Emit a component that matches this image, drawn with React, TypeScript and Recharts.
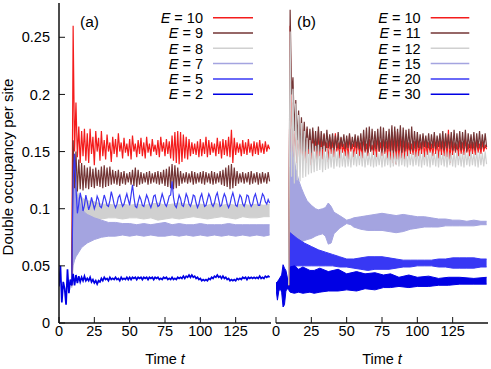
import React from 'react';
import { ComposedChart, Line, Area, XAxis, YAxis } from 'recharts';

const FONT = '"Liberation Sans", Arial, Helvetica, sans-serif';

// axes
const X_TICKS = [0, 25, 50, 75, 100, 125];
const Y_TICKS = [0, 0.05, 0.1, 0.15, 0.2, 0.25];
const X_DOMAIN = [0, 150];
const Y_DOMAIN = [0, 0.28];
const Y_LABEL = 'Double occupancy per site';
const X_LABEL = 'Time ';
const PANEL_LABELS = ['(a)', '(b)'];
const LEGEND_A = ['10', '9', '8', '7', '5', '2'];
const LEGEND_B = ['10', '11', '12', '15', '20', '30'];

// values: double occupancy x 1000, one per unit of time
// E = 10 (both panels), from t = 9
const E10 = [
  33,
  260, 150, 193, 145, 172, 140, 168, 146, 170, 142,
  166, 140, 170, 148, 163, 138, 168, 150, 162, 142,
  168, 146, 160, 143, 165, 150, 158, 141, 163, 148,
  161, 145, 166, 150, 158, 144, 162, 149, 157, 146,
  161, 143, 164, 150, 157, 145, 160, 148, 162, 146,
  158, 144, 163, 149, 157, 146, 161, 150, 156, 147,
  160, 145, 163, 150, 158, 146, 161, 148, 159, 144,
  164, 142, 167, 140, 168, 139, 167, 141, 165, 144,
  163, 143, 161, 146, 158, 148, 157, 147, 159, 145,
  161, 146, 158, 148, 163, 145, 160, 147, 158, 149,
  157, 146, 162, 148, 159, 144, 161, 147, 160, 146,
  163, 145, 169, 140, 162, 147, 158, 149, 157, 146,
  160, 148, 158, 147, 161, 149, 157, 146, 159, 148,
  158, 147, 160, 149, 157, 148, 159, 150, 156, 152,
];
// E = 9 (a), from t = 9
const E9A = [
  33,
  160, 118, 150, 115, 143, 117, 140, 116, 138, 118,
  136, 117, 137, 119, 135, 118, 136, 120, 134, 119,
  137, 118, 138, 119, 136, 120, 137, 121, 134, 122,
  133, 121, 134, 120, 132, 122, 133, 121, 131, 123,
  132, 121, 134, 120, 136, 119, 134, 121, 132, 122,
  131, 123, 132, 121, 133, 122, 131, 123, 132, 122,
  133, 121, 132, 122, 134, 120, 135, 119, 137, 118,
  139, 117, 138, 118, 136, 120, 133, 122, 131, 123,
  132, 122, 131, 123, 133, 121, 132, 122, 131, 123,
  132, 122, 133, 121, 132, 123, 131, 122, 133, 121,
  132, 122, 131, 123, 133, 121, 134, 120, 136, 119,
  138, 117, 139, 118, 136, 120, 133, 122, 131, 123,
  132, 122, 131, 123, 132, 121, 133, 122, 131, 123,
  132, 121, 131, 122, 132, 123, 131, 122, 132, 124,
];
// E = 5 (a), from t = 9
const E5A = [
  33,
  125, 148, 118, 96, 104, 114, 108, 98, 103, 112,
  106, 99, 103, 110, 105, 100, 104, 111, 108, 102,
  101, 106, 112, 108, 103, 102, 107, 115, 110, 104,
  101, 104, 110, 112, 106, 102, 104, 109, 113, 108,
  103, 112, 121, 110, 102, 101, 106, 111, 108, 103,
  102, 107, 112, 109, 104, 101, 105, 111, 112, 106,
  102, 103, 108, 113, 109, 104, 102, 106, 111, 112,
  124, 110, 103, 101, 106, 112, 109, 103, 102, 107,
  113, 110, 104, 102, 106, 112, 111, 105, 101, 104,
  110, 113, 107, 102, 103, 108, 113, 110, 104, 102,
  105, 111, 114, 108, 102, 103, 109, 113, 110, 104,
  101, 104, 110, 114, 109, 103, 102, 107, 112, 110,
  104, 102, 106, 112, 111, 105, 102, 104, 110, 113,
  108, 103, 103, 108, 113, 111, 106, 104, 108, 105,
];
// E = 2 (a), from t = 0
const E2A = [
  32, 50, 18, 36, 30, 16, 47, 26, 38, 33,
  43, 33, 42, 35, 41, 36, 40, 37, 41, 37,
  39, 37, 40, 36, 38, 35, 37, 34, 37, 36,
  39, 37, 40, 38, 39, 37, 40, 38, 39, 38,
  40, 38, 39, 37, 40, 38, 39, 38, 40, 38,
  40, 38, 40, 39, 40, 38, 40, 39, 40, 38,
  40, 39, 40, 38, 40, 39, 40, 38, 40, 39,
  40, 38, 39, 38, 40, 39, 40, 38, 39, 38,
  40, 38, 39, 38, 40, 39, 40, 39, 41, 39,
  41, 40, 42, 40, 42, 40, 41, 39, 40, 38,
  39, 37, 38, 37, 38, 37, 39, 38, 40, 39,
  41, 40, 42, 40, 41, 39, 41, 39, 40, 38,
  39, 37, 38, 37, 38, 37, 39, 38, 39, 38,
  40, 39, 40, 38, 40, 39, 40, 39, 40, 39,
  40, 39, 41, 39, 40, 39, 41, 40, 41, 40,
];
// E = 8 (a) band: times, lower, upper
const E8A_T = [9, 10, 12, 14, 16, 18, 20, 25, 30, 35, 40, 45, 50, 55, 60, 65, 70, 75, 80, 85, 90, 95, 100, 105, 110, 115, 120, 125, 130, 135, 140, 145, 149];
const E8A_LO = [31, 60, 80, 85, 88, 88, 89, 90, 91, 92, 92, 91, 92, 92, 91, 92, 90, 91, 92, 91, 92, 93, 92, 91, 92, 93, 92, 91, 93, 92, 92, 93, 93];
const E8A_HI = [35, 125, 118, 112, 110, 108, 107, 106, 104, 104, 103, 104, 103, 104, 103, 104, 105, 103, 104, 105, 104, 103, 104, 103, 105, 103, 104, 103, 104, 103, 104, 103, 104];
// E = 7 (a) band
const E7A_T = [9, 10, 11, 12, 14, 16, 18, 20, 25, 30, 35, 40, 45, 50, 55, 60, 65, 70, 75, 80, 85, 90, 95, 100, 105, 110, 115, 120, 125, 130, 135, 140, 145, 149];
const E7A_LO = [31, 50, 55, 58, 62, 66, 68, 70, 73, 75, 76, 76, 77, 76, 77, 76, 77, 76, 76, 77, 76, 77, 76, 77, 76, 77, 76, 77, 76, 77, 76, 77, 76, 77];
const E7A_HI = [35, 125, 120, 115, 108, 100, 97, 95, 92, 90, 88, 88, 87, 87, 86, 87, 86, 87, 88, 86, 87, 86, 86, 87, 86, 86, 86, 87, 86, 86, 86, 86, 86, 86];

// E = 11 (b), from t = 9
const E11B = [
  33,
  274, 200, 215, 168, 195, 160, 186, 152, 180, 150,
  176, 150, 172, 152, 170, 149, 171, 151, 168, 150,
  172, 150, 168, 152, 166, 151, 169, 153, 165, 152,
  166, 151, 164, 153, 167, 152, 163, 154, 165, 152,
  164, 153, 166, 152, 163, 154, 165, 153, 164, 152,
  166, 151, 169, 150, 171, 149, 172, 150, 170, 151,
  168, 152, 170, 150, 172, 149, 171, 150, 168, 152,
  170, 150, 173, 149, 172, 150, 170, 151, 173, 149,
  171, 150, 169, 152, 170, 150, 172, 151, 168, 152,
  167, 153, 165, 152, 166, 154, 164, 153, 166, 152,
  165, 153, 167, 152, 164, 154, 166, 152, 168, 151,
  166, 153, 165, 152, 167, 151, 169, 150, 166, 152,
  168, 151, 167, 152, 169, 150, 166, 153, 165, 152,
  167, 151, 166, 153, 168, 152, 165, 153, 166, 154,
];
// E = 12 (b), from t = 9
const E12B = [
  33,
  255, 128, 205, 122, 192, 125, 182, 124, 175, 127,
  168, 128, 162, 130, 160, 131, 157, 132, 155, 133,
  156, 134, 154, 132, 155, 134, 153, 135, 152, 136,
  153, 135, 152, 137, 151, 136, 152, 137, 150, 136,
  151, 137, 150, 136, 152, 138, 150, 137, 151, 138,
  150, 137, 151, 136, 150, 138, 149, 137, 151, 136,
  150, 137, 149, 138, 150, 136, 151, 137, 149, 138,
  150, 136, 151, 137, 150, 138, 149, 137, 150, 138,
  149, 137, 150, 136, 151, 138, 149, 137, 150, 138,
  150, 137, 151, 136, 149, 138, 150, 137, 151, 136,
  150, 138, 149, 137, 151, 136, 150, 138, 149, 137,
  151, 136, 150, 138, 149, 137, 150, 136, 151, 138,
  149, 137, 150, 136, 151, 138, 149, 137, 150, 138,
  149, 137, 151, 136, 150, 138, 149, 137, 150, 139,
];
// E = 15 (b) band
const E15B_T = [9, 10, 11, 12, 14, 16, 18, 20, 22, 25, 28, 30, 33, 35, 37, 39, 41, 45, 50, 53, 55, 60, 65, 70, 75, 80, 85, 90, 95, 100, 105, 110, 115, 120, 125, 130, 135, 140, 145, 149];
const E15B_LO = [31, 70, 72, 72, 71, 70, 71, 72, 73, 74, 76, 77, 78, 76, 69, 70, 78, 83, 87, 86, 84, 82, 81, 81, 81, 80, 79, 80, 82, 83, 84, 84, 84, 85, 85, 85, 85, 85, 86, 86];
const E15B_HI = [35, 170, 160, 150, 135, 125, 118, 112, 107, 103, 100, 99, 100, 101, 105, 102, 97, 94, 90, 91, 92, 93, 94, 95, 96, 95, 94, 95, 94, 93, 93, 92, 91, 91, 90, 90, 89, 90, 89, 89];
// E = 20 (b) band
const E20B_T = [9, 10, 12, 15, 20, 25, 30, 35, 40, 45, 50, 55, 60, 65, 70, 75, 80, 85, 90, 95, 100, 105, 110, 115, 120, 125, 130, 135, 140, 145, 149];
const E20B_LO = [31, 48, 49, 50, 50, 50, 50, 50, 50, 49, 49, 48, 47, 46, 47, 47, 47, 48, 49, 49, 50, 50, 50, 49, 49, 48, 48, 48, 48, 49, 49];
const E20B_HI = [35, 79, 77, 74, 70, 67, 64, 62, 60, 58, 56, 56, 57, 58, 58, 58, 57, 56, 55, 55, 55, 55, 55, 56, 56, 57, 57, 57, 57, 56, 56];
// E = 30 (b) band
const E30B_T = [0, 1, 2, 3, 4, 5, 6, 7, 8, 9, 10, 13, 16, 19, 24, 27, 31, 37, 44, 50, 57, 63, 70, 76, 81, 87, 94, 100, 108, 115, 122, 130, 140, 149];
const E30B_LO = [30, 20, 28, 30, 27, 14, 16, 28, 30, 29, 27, 26, 27, 26, 27, 26, 27, 28, 28, 29, 28, 30, 29, 31, 31, 32, 31, 32, 32, 33, 33, 34, 34, 34];
const E30B_HI = [35, 36, 38, 40, 42, 51, 48, 46, 40, 38, 49, 50, 47, 49, 46, 46, 48, 45, 47, 43, 45, 43, 44, 42, 43, 40, 42, 40, 41, 39, 40, 40, 39, 40];

const COLORS = ['#f41c1c', '#733535', '#d0d0d0', '#a4a4e0', '#3838f4', '#0000e4'];

const toLine = (start: number, vals: number[]) => vals.map((v, i) => ({ t: start + i, v: v / 1000 }));
const toBand = (ts: number[], lo: number[], hi: number[]) => ts.map((t, i) => ({ t, r: [lo[i] / 1000, hi[i] / 1000] }));

type S = { kind: 'line' | 'band'; data: any[]; color: string; w?: number };

const SERIES_A: S[] = [
  { kind: 'line', data: toLine(9, E10), color: COLORS[0] },
  { kind: 'line', data: toLine(9, E9A), color: COLORS[1] },
  { kind: 'band', data: toBand(E8A_T, E8A_LO, E8A_HI), color: COLORS[2] },
  { kind: 'band', data: toBand(E7A_T, E7A_LO, E7A_HI), color: COLORS[3] },
  { kind: 'line', data: toLine(9, E5A), color: COLORS[4] },
  { kind: 'line', data: toLine(0, E2A), color: COLORS[5], w: 1.7 },
];
const SERIES_B: S[] = [
  { kind: 'line', data: toLine(9, E10), color: COLORS[0] },
  { kind: 'line', data: toLine(9, E11B), color: COLORS[1] },
  { kind: 'line', data: toLine(9, E12B), color: COLORS[2] },
  { kind: 'band', data: toBand(E15B_T, E15B_LO, E15B_HI), color: COLORS[3] },
  { kind: 'band', data: toBand(E20B_T, E20B_LO, E20B_HI), color: COLORS[4] },
  { kind: 'band', data: toBand(E30B_T, E30B_LO, E30B_HI), color: COLORS[5] },
];

const NoTick = () => <g />;
const AXIS_LINE = { stroke: '#111', strokeWidth: 1.5 };
const TICK_LINE = { stroke: '#111', strokeWidth: 1 };
const TICK_STYLE = { fontSize: 14.5, fill: '#000', fontFamily: FONT };

function Panel({ width, margin, yWidth, labels, series }: any) {
  return (
    <ComposedChart width={width} height={369} margin={margin}>
      <XAxis xAxisId="b" type="number" dataKey="t" domain={X_DOMAIN} ticks={X_TICKS} interval={0}
        allowDataOverflow tickSize={-6} tickMargin={9} height={30}
        axisLine={AXIS_LINE} tickLine={TICK_LINE} tick={TICK_STYLE} />
      <XAxis xAxisId="t" orientation="top" type="number" dataKey="t" domain={X_DOMAIN} ticks={X_TICKS} interval={0}
        allowDataOverflow tickSize={-6} height={0} axisLine={AXIS_LINE} tickLine={TICK_LINE} tick={NoTick} />
      <YAxis yAxisId="l" type="number" domain={Y_DOMAIN} ticks={Y_TICKS} interval={0} allowDataOverflow
        width={yWidth} tickSize={-6} tickMargin={15} axisLine={AXIS_LINE} tickLine={TICK_LINE}
        tick={labels ? TICK_STYLE : NoTick} />
      <YAxis yAxisId="r" orientation="right" type="number" domain={Y_DOMAIN} ticks={Y_TICKS} interval={0} allowDataOverflow
        width={0} tickSize={-6} axisLine={AXIS_LINE} tickLine={TICK_LINE} tick={NoTick} />
      {series.map((s: S, i: number) =>
        s.kind === 'line' ? (
          <Line key={i} xAxisId="b" yAxisId="l" data={s.data} dataKey="v" type="linear" stroke={s.color}
            strokeWidth={s.w ?? 1.2} dot={false} isAnimationActive={false} />
        ) : (
          <Area key={i} xAxisId="b" yAxisId="l" data={s.data} dataKey="r" type="linear" stroke={s.color}
            strokeWidth={1} fill={s.color} fillOpacity={1} dot={false} isAnimationActive={false} />
        )
      )}
    </ComposedChart>
  );
}

function Legend({ names, textRight, lineX1, lineX2 }: any) {
  return (
    <g>
      {names.map((n: string, i: number) => {
        const cy = 17.7 + i * 15.3;
        return (
          <g key={i}>
            <text x={textRight} y={cy + 5.2} textAnchor="end" fontSize={14.5} fontFamily={FONT} fill="#000">
              <tspan fontStyle="italic">E</tspan> = {n}
            </text>
            <line x1={lineX1} x2={lineX2} y1={cy} y2={cy} stroke={COLORS[i]} strokeWidth={1.5} />
          </g>
        );
      })}
    </g>
  );
}

export default function App() {
  return (
    <div style={{ position: 'absolute', left: 0, top: 0, width: 491, height: 369, background: '#fff', fontFamily: FONT }}>
      <div style={{ position: 'absolute', left: 0, top: 0 }}>
        <Panel width={272} margin={{ top: 3, right: 1, bottom: 16, left: 0 }} yWidth={59} labels series={SERIES_A} />
      </div>
      <div style={{ position: 'absolute', left: 272, top: 0 }}>
        <Panel width={219} margin={{ top: 3, right: 3, bottom: 16, left: 4 }} yWidth={0} labels={false} series={SERIES_B} />
      </div>
      <svg width={491} height={369} style={{ position: 'absolute', left: 0, top: 0, pointerEvents: 'none' }}>
        <text transform="translate(12.5,167) rotate(-90)" textAnchor="middle" fontSize={15} fontFamily={FONT} fill="#000">{Y_LABEL}</text>
        <text x={165} y={364} textAnchor="middle" fontSize={14.5} fontFamily={FONT} fill="#000">{X_LABEL}<tspan fontStyle="italic">t</tspan></text>
        <text x={382} y={364} textAnchor="middle" fontSize={14.5} fontFamily={FONT} fill="#000">{X_LABEL}<tspan fontStyle="italic">t</tspan></text>
        <text x={80} y={27} fontSize={15.5} fontFamily={FONT} fill="#000">{PANEL_LABELS[0]}</text>
        <text x={297} y={27} fontSize={15.5} fontFamily={FONT} fill="#000">{PANEL_LABELS[1]}</text>
        <Legend names={LEGEND_A} textRight={203} lineX1={213} lineX2={253} />
        <Legend names={LEGEND_B} textRight={420.7} lineX1={430.7} lineX2={469.3} />
      </svg>
    </div>
  );
}
